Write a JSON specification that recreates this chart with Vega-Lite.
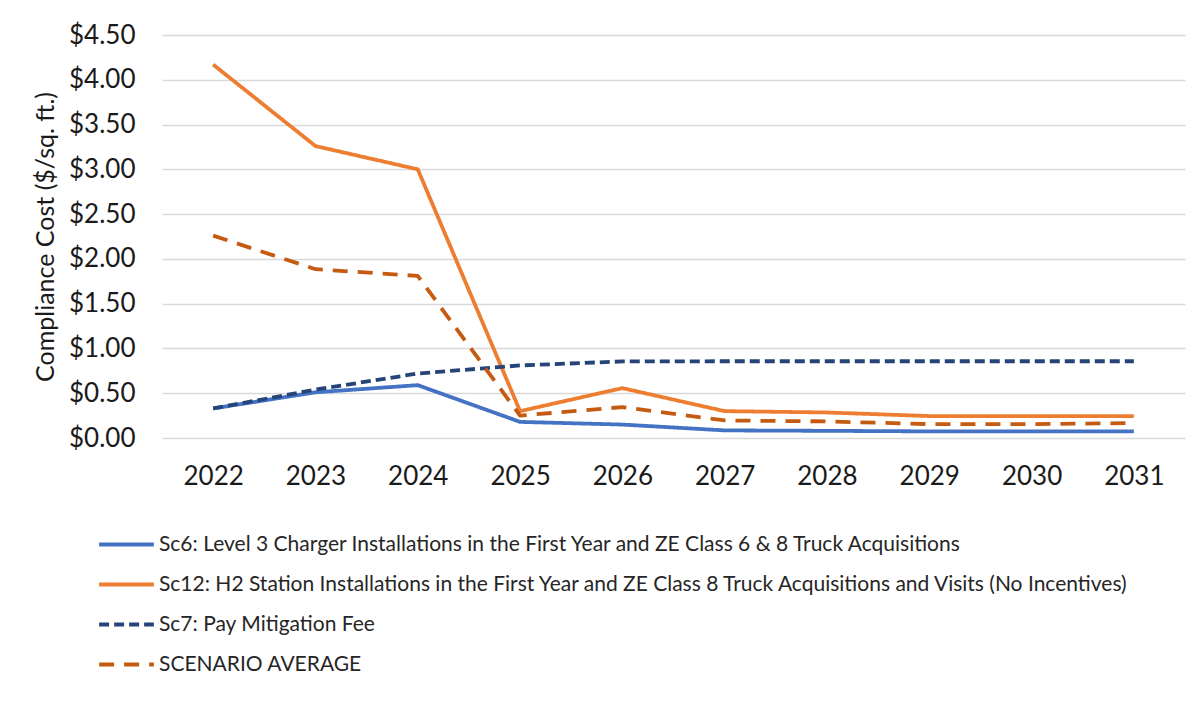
{
  "$schema": "https://vega.github.io/schema/vega-lite/v6.json",
  "width": 1023,
  "height": 403,
  "autosize": {"type": "none"},
  "padding": {"left": 162, "top": 35, "right": 15, "bottom": 289},
  "background": "white",
  "config": {
    "font": "Lato",
    "view": {"stroke": null},
    "axis": {"labelFont": "Lato", "titleFont": "Lato"}
  },
  "data": {
    "values": [
      {"year": "2022", "series": "Sc6: Level 3 Charger Installations in the First Year and ZE Class 6 & 8 Truck Acquisitions", "value": 0.33},
      {"year": "2023", "series": "Sc6: Level 3 Charger Installations in the First Year and ZE Class 6 & 8 Truck Acquisitions", "value": 0.51},
      {"year": "2024", "series": "Sc6: Level 3 Charger Installations in the First Year and ZE Class 6 & 8 Truck Acquisitions", "value": 0.59},
      {"year": "2025", "series": "Sc6: Level 3 Charger Installations in the First Year and ZE Class 6 & 8 Truck Acquisitions", "value": 0.18},
      {"year": "2026", "series": "Sc6: Level 3 Charger Installations in the First Year and ZE Class 6 & 8 Truck Acquisitions", "value": 0.15},
      {"year": "2027", "series": "Sc6: Level 3 Charger Installations in the First Year and ZE Class 6 & 8 Truck Acquisitions", "value": 0.085},
      {"year": "2028", "series": "Sc6: Level 3 Charger Installations in the First Year and ZE Class 6 & 8 Truck Acquisitions", "value": 0.08},
      {"year": "2029", "series": "Sc6: Level 3 Charger Installations in the First Year and ZE Class 6 & 8 Truck Acquisitions", "value": 0.074},
      {"year": "2030", "series": "Sc6: Level 3 Charger Installations in the First Year and ZE Class 6 & 8 Truck Acquisitions", "value": 0.074},
      {"year": "2031", "series": "Sc6: Level 3 Charger Installations in the First Year and ZE Class 6 & 8 Truck Acquisitions", "value": 0.074},
      {"year": "2022", "series": "Sc12: H2 Station Installations in the First Year and ZE Class 8 Truck Acquisitions and Visits (No Incentives)", "value": 4.17},
      {"year": "2023", "series": "Sc12: H2 Station Installations in the First Year and ZE Class 8 Truck Acquisitions and Visits (No Incentives)", "value": 3.26},
      {"year": "2024", "series": "Sc12: H2 Station Installations in the First Year and ZE Class 8 Truck Acquisitions and Visits (No Incentives)", "value": 3.0},
      {"year": "2025", "series": "Sc12: H2 Station Installations in the First Year and ZE Class 8 Truck Acquisitions and Visits (No Incentives)", "value": 0.3},
      {"year": "2026", "series": "Sc12: H2 Station Installations in the First Year and ZE Class 8 Truck Acquisitions and Visits (No Incentives)", "value": 0.557},
      {"year": "2027", "series": "Sc12: H2 Station Installations in the First Year and ZE Class 8 Truck Acquisitions and Visits (No Incentives)", "value": 0.3},
      {"year": "2028", "series": "Sc12: H2 Station Installations in the First Year and ZE Class 8 Truck Acquisitions and Visits (No Incentives)", "value": 0.285},
      {"year": "2029", "series": "Sc12: H2 Station Installations in the First Year and ZE Class 8 Truck Acquisitions and Visits (No Incentives)", "value": 0.245},
      {"year": "2030", "series": "Sc12: H2 Station Installations in the First Year and ZE Class 8 Truck Acquisitions and Visits (No Incentives)", "value": 0.245},
      {"year": "2031", "series": "Sc12: H2 Station Installations in the First Year and ZE Class 8 Truck Acquisitions and Visits (No Incentives)", "value": 0.245},
      {"year": "2022", "series": "Sc7: Pay Mitigation Fee", "value": 0.33},
      {"year": "2023", "series": "Sc7: Pay Mitigation Fee", "value": 0.54},
      {"year": "2024", "series": "Sc7: Pay Mitigation Fee", "value": 0.72},
      {"year": "2025", "series": "Sc7: Pay Mitigation Fee", "value": 0.81},
      {"year": "2026", "series": "Sc7: Pay Mitigation Fee", "value": 0.855},
      {"year": "2027", "series": "Sc7: Pay Mitigation Fee", "value": 0.857},
      {"year": "2028", "series": "Sc7: Pay Mitigation Fee", "value": 0.857},
      {"year": "2029", "series": "Sc7: Pay Mitigation Fee", "value": 0.857},
      {"year": "2030", "series": "Sc7: Pay Mitigation Fee", "value": 0.857},
      {"year": "2031", "series": "Sc7: Pay Mitigation Fee", "value": 0.857},
      {"year": "2022", "series": "SCENARIO AVERAGE", "value": 2.26},
      {"year": "2023", "series": "SCENARIO AVERAGE", "value": 1.885},
      {"year": "2024", "series": "SCENARIO AVERAGE", "value": 1.81},
      {"year": "2025", "series": "SCENARIO AVERAGE", "value": 0.25},
      {"year": "2026", "series": "SCENARIO AVERAGE", "value": 0.345},
      {"year": "2027", "series": "SCENARIO AVERAGE", "value": 0.196},
      {"year": "2028", "series": "SCENARIO AVERAGE", "value": 0.185},
      {"year": "2029", "series": "SCENARIO AVERAGE", "value": 0.155},
      {"year": "2030", "series": "SCENARIO AVERAGE", "value": 0.155},
      {"year": "2031", "series": "SCENARIO AVERAGE", "value": 0.167}
    ]
  },
  "mark": {"type": "line", "strokeWidth": 3.8, "strokeCap": "butt", "strokeJoin": "round"},
  "encoding": {
    "x": {
      "field": "year", "type": "ordinal", "title": null,
      "scale": {"paddingInner": 0, "paddingOuter": 0.5},
      "axis": {"labelAngle": 0, "labelFontSize": 26, "labelColor": "#1a1a1a", "labelPadding": 25, "domain": false, "ticks": false, "grid": false}
    },
    "y": {
      "field": "value", "type": "quantitative",
      "title": "Compliance Cost ($/sq. ft.)",
      "scale": {"domain": [0, 4.5], "nice": false},
      "axis": {
        "values": [0, 0.5, 1, 1.5, 2, 2.5, 3, 3.5, 4, 4.5],
        "format": "$.2f",
        "labelFontSize": 26, "labelColor": "#1a1a1a", "labelPadding": 27,
        "titleFontSize": 25, "titleFontWeight": "normal", "titleColor": "#1a1a1a", "titlePadding": 10,
        "domain": false, "ticks": false,
        "gridColor": "#d9d9d9", "gridWidth": 1.5
      }
    },
    "color": {
      "field": "series", "type": "nominal",
      "scale": {
        "domain": [
          "Sc6: Level 3 Charger Installations in the First Year and ZE Class 6 & 8 Truck Acquisitions",
          "Sc12: H2 Station Installations in the First Year and ZE Class 8 Truck Acquisitions and Visits (No Incentives)",
          "Sc7: Pay Mitigation Fee",
          "SCENARIO AVERAGE"
        ],
        "range": ["#4472C4", "#ED7D31", "#264478", "#C55A11"]
      },
      "legend": {
        "title": null, "orient": "none", "legendX": -65, "legendY": 480,
        "direction": "vertical",
        "symbolType": "stroke", "symbolSize": 3000, "symbolStrokeWidth": 3.8,
        "labelFontSize": 21, "labelColor": "#262626", "labelLimit": 1100, "labelOffset": 3,
        "rowPadding": -12.3
      }
    },
    "strokeDash": {
      "field": "series", "type": "nominal",
      "scale": {
        "domain": [
          "Sc6: Level 3 Charger Installations in the First Year and ZE Class 6 & 8 Truck Acquisitions",
          "Sc12: H2 Station Installations in the First Year and ZE Class 8 Truck Acquisitions and Visits (No Incentives)",
          "Sc7: Pay Mitigation Fee",
          "SCENARIO AVERAGE"
        ],
        "range": [[1, 0], [1, 0], [10, 5], [15, 10]]
      },
      "legend": null
    }
  }
}
